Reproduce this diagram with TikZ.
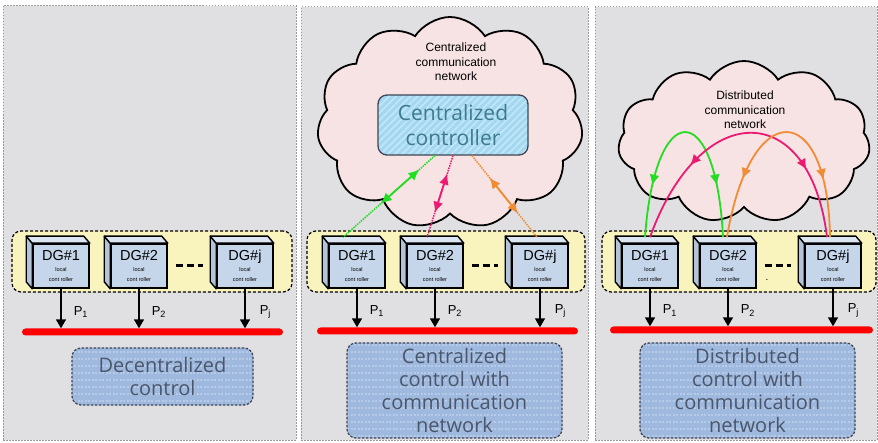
\documentclass[tikz,border=0pt]{standalone}
\usepackage{fontspec}
\setmainfont{Liberation Sans}
\newfontfamily\segfont{Open Sans}
\usetikzlibrary{shapes.symbols,patterns.meta,arrows.meta,calc,decorations.markings}
\definecolor{panelbg}{HTML}{E0E0E2}
\definecolor{panelbd}{HTML}{9A9A9A}
\definecolor{grpfill}{HTML}{F9F3BE}
\definecolor{dgfront}{HTML}{C6D6EA}
\definecolor{dgside}{HTML}{B3C3D8}
\definecolor{dgtop}{HTML}{DCE6F2}
\definecolor{busred}{HTML}{FF0000}
\definecolor{boxfill}{HTML}{9FB8DE}
\definecolor{boxstripe}{HTML}{B6CAE9}
\definecolor{boxtext}{HTML}{4A566A}
\definecolor{boxbd}{HTML}{3E4656}
\definecolor{cloudfill}{HTML}{F7E3E3}
\definecolor{ctrlfill}{HTML}{A3D8F0}
\definecolor{ctrlstripe}{HTML}{C3E7F7}
\definecolor{ctrltext}{HTML}{3D7A8C}
\definecolor{ngreen}{HTML}{22DD22}
\definecolor{nmag}{HTML}{EC1A72}
\definecolor{norange}{HTML}{F28C34}
\newcommand\dgext[1]{%
  \filldraw[dgedge, fill=dgside] (#1.north west) -- ++(-6,-7) -- ($(#1.south west)+(-6,-7)$) -- (#1.south west) -- cycle;
  \filldraw[dgedge, fill=dgtop] (#1.north west) -- ++(-6,-7) -- ($(#1.north east)+(-6,-7)$) -- (#1.north east) -- cycle;}
\newcommand\dgtext[1]{{\fontsize{14.5}{15}\selectfont DG\##1}\\[-1pt]{\fontsize{5.5}{6.5}\selectfont local}\\[-1.5pt]{\fontsize{5.5}{6.5}\selectfont cont roller}}
\tikzset{
  panel/.style={draw=panelbd, dash pattern=on 1.5pt off 1.5pt, line width=1pt, fill=panelbg},
  grp/.style={draw=black, line width=1.2pt, dash pattern=on 3pt off 2pt, fill=grpfill, rounded corners=9pt, minimum height=61pt, inner sep=0pt},
  dgbox/.style={draw=black, line width=1.6pt, fill=dgfront, minimum width=56pt, minimum height=44pt, inner sep=0pt, align=center},
  dgedge/.style={draw=black, line width=1.4pt, line join=round},
  bus/.style={fill=busred, rounded corners=3.5pt, minimum height=7pt, inner sep=0pt},
  powarrow/.style={line width=1.5pt, -{Triangle[length=9pt,width=10pt]}},
  plabel/.style={font=\fontsize{13}{13}\selectfont, inner sep=0pt, anchor=west},
  dots3/.style={line width=3pt, dash pattern=on 7pt off 4pt},
  modebox/.style={preaction={fill=boxfill}, pattern={Lines[angle=0,distance=7pt,line width=2.2pt]}, pattern color=boxstripe,
    draw=boxbd, line width=1.3pt, dash pattern=on 2.5pt off 1.5pt, rounded corners=9pt,
    text=boxtext, font=\segfont\fontsize{20}{23}\selectfont, align=center, inner sep=0pt},
  ctrlbox/.style={preaction={fill=ctrlfill}, pattern={Lines[angle=45,distance=5pt,line width=1.6pt]}, pattern color=ctrlstripe,
    draw=boxbd, line width=1.3pt, rounded corners=9pt,
    text=ctrltext, font=\segfont\fontsize{21}{25}\selectfont, align=center, inner sep=0pt},
  cloudshape/.style={cloud, draw=black, line width=1.8pt, fill=cloudfill, cloud puffs=11, cloud puff arc=115, inner sep=0pt},
  cloudtext/.style={font=\fontsize{12}{14.5}\selectfont, align=center, inner sep=0pt},
  link/.style={line width=1.5pt, densely dotted},
  dbl/.style={line width=1.8pt, {Latex[length=11pt,width=10pt]}-{Latex[length=11pt,width=10pt]}},
  arcarrow/.style 2 args={line width=1.8pt, postaction={decorate}, decoration={markings,
    mark=at position #1 with {\arrowreversed{Latex[length=11pt,width=10pt]}},
    mark=at position #2 with {\arrow{Latex[length=11pt,width=10pt]}}}},
}
\begin{document}
\begin{tikzpicture}[x=1pt,y=-1pt]
\useasboundingbox (0,0) rectangle (878,443);
% panels
\node[panel, minimum width=293pt, minimum height=434pt, inner sep=0pt] (pL) at (149.5,223) {};
\node[panel, minimum width=287pt, minimum height=433pt, inner sep=0pt] (pM) at (444.5,223.5) {};
\node[panel, minimum width=282pt, minimum height=433pt, inner sep=0pt] (pR) at (736,223.5) {};

% clouds
\node[cloudshape, minimum width=266pt, minimum height=212pt, aspect=1.25] (cM) at (450,123) {};
\node[cloudtext] (tM) at (456,62) {Centralized\\communication\\network};
\node[ctrlbox, minimum width=150pt, minimum height=60pt] (ctrl) at (453,125) {Centralized\\controller};
\node[cloudshape, minimum width=252pt, minimum height=162pt, aspect=1.55] (cR) at (744,142) {};
\node[cloudtext] (tR) at (745,110) {Distributed\\communication\\network};

% groups
\node[grp, minimum width=280pt] (gL) at (152,261.5) {};
\node[grp, minimum width=278pt] (gM) at (446,261.5) {};
\node[grp, minimum width=274pt] (gR) at (739,261.5) {};

% DG boxes
\node[dgbox] (l1) at (61,266) {\dgtext{1}}; \dgext{l1}
\node[dgbox] (l2) at (139,266) {\dgtext{2}}; \dgext{l2}
\node[dgbox] (lj) at (245,266) {\dgtext{j}}; \dgext{lj}
\node[dgbox] (m1) at (357,266) {\dgtext{1}}; \dgext{m1}
\node[dgbox] (m2) at (435,266) {\dgtext{2}}; \dgext{m2}
\node[dgbox] (mj) at (540,266) {\dgtext{j}}; \dgext{mj}
\node[dgbox] (r1) at (650,266) {\dgtext{1}}; \dgext{r1}
\node[dgbox] (r2) at (728,266) {\dgtext{2}}; \dgext{r2}
\node[dgbox] (rj) at (833,266) {\dgtext{j}}; \dgext{rj}
\node[inner sep=0pt, font=\fontsize{10}{10}\selectfont] (stray) at (767,280) {.};

% dashes between DG#2 and DG#j
\draw[dots3] ([xshift=8pt]l2.east) -- ([xshift=-13pt]lj.west);
\draw[dots3] ([xshift=8pt]m2.east) -- ([xshift=-13pt]mj.west);
\draw[dots3] ([xshift=8pt]r2.east) -- ([xshift=-13pt]rj.west);

% buses
\node[bus, minimum width=261pt] (bL) at (152.5,332) {};
\node[bus, minimum width=261pt] (bM) at (447.5,331) {};
\node[bus, minimum width=263pt] (bR) at (741.5,330) {};

% power arrows
\draw[powarrow] (l1.south) -- (l1.south |- bL.north) node[pos=0.58, plabel, xshift=12pt] {P\textsubscript{1}};
\draw[powarrow] (l2.south) -- (l2.south |- bL.north) node[pos=0.58, plabel, xshift=12pt] {P\textsubscript{2}};
\draw[powarrow] (lj.south) -- (lj.south |- bL.north) node[pos=0.58, plabel, xshift=14pt] {P\textsubscript{j}};
\draw[powarrow] (m1.south) -- (m1.south |- bM.north) node[pos=0.58, plabel, xshift=12pt] {P\textsubscript{1}};
\draw[powarrow] (m2.south) -- (m2.south |- bM.north) node[pos=0.58, plabel, xshift=12pt] {P\textsubscript{2}};
\draw[powarrow] (mj.south) -- (mj.south |- bM.north) node[pos=0.58, plabel, xshift=14pt] {P\textsubscript{j}};
\draw[powarrow] (r1.south) -- (r1.south |- bR.north) node[pos=0.58, plabel, xshift=12pt] {P\textsubscript{1}};
\draw[powarrow] (r2.south) -- (r2.south |- bR.north) node[pos=0.58, plabel, xshift=12pt] {P\textsubscript{2}};
\draw[powarrow] (rj.south) -- (rj.south |- bR.north) node[pos=0.58, plabel, xshift=14pt] {P\textsubscript{j}};

% mode boxes
\node[modebox, minimum width=181pt, minimum height=57pt] (modeL) at (162.5,376.5) {Decentralized\\control};
\node[modebox, minimum width=215pt, minimum height=95pt] (modeM) at (454.5,390.5) {Centralized\\control with\\communication\\network};
\node[modebox, minimum width=215pt, minimum height=95pt] (modeR) at (747.5,390.5) {Distributed\\control with\\communication\\network};

% centralized links
\coordinate (gA) at ([xshift=-18pt]ctrl.south);
\coordinate (gB) at ([xshift=-14pt,yshift=6pt]m1.north);
\coordinate (mA) at (ctrl.south);
\coordinate (mB) at ([xshift=-8pt,yshift=6pt]m2.north);
\coordinate (oA) at ([xshift=19pt]ctrl.south);
\coordinate (oB) at ([xshift=-3pt,yshift=6pt]mj.north);
\draw[link, ngreen] (gA) -- (gB);
\draw[link, nmag] (mA) -- (mB);
\draw[link, norange] (oA) -- (oB);
\draw[dbl, ngreen] ($(gA)!0.17!(gB)$) -- ($(gA)!0.59!(gB)$);
\draw[dbl, nmag] ($(mA)!0.22!(mB)$) -- ($(mA)!0.70!(mB)$);
\draw[dbl, norange] ($(oA)!0.27!(oB)$) -- ($(oA)!0.71!(oB)$);

% distributed links
\coordinate (rg1) at ([xshift=-5pt,yshift=6pt]r1.north);
\coordinate (rm1) at ([xshift=0pt,yshift=6pt]r1.north);
\coordinate (rg2) at ([xshift=-5pt,yshift=6pt]r2.north);
\coordinate (ro2) at ([xshift=-1pt,yshift=6pt]r2.north);
\coordinate (rmj) at ([xshift=-6pt,yshift=6pt]rj.north);
\coordinate (roj) at ([xshift=-3pt,yshift=6pt]rj.north);
\draw[arcarrow={0.22}{0.78}, ngreen] (rg1) .. controls (655,97) and (716,97) .. (rg2);
\draw[arcarrow={0.28}{0.76}, nmag] (rm1) .. controls (700,98) and (810,98) .. (rmj);
\draw[arcarrow={0.24}{0.77}, norange] (ro2) .. controls (750,97) and (828,97) .. (roj);
\end{tikzpicture}
\end{document}
